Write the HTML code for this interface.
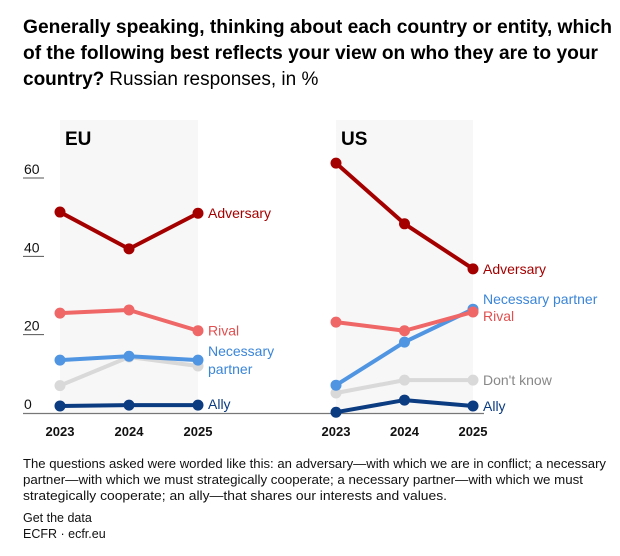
<!DOCTYPE html>
<html><head><meta charset="utf-8"><style>
html,body{margin:0;padding:0;background:#fff;}
svg{display:block;font-family:"Liberation Sans",sans-serif;}
</style></head><body>
<svg id="chart" width="620" height="556" viewBox="0 0 620 556" xmlns="http://www.w3.org/2000/svg">
<g font-weight="bold" font-size="19" fill="#000">
<text x="23" y="33" textLength="589" lengthAdjust="spacingAndGlyphs">Generally speaking, thinking about each country or entity, which</text>
<text x="23" y="59" textLength="575" lengthAdjust="spacingAndGlyphs">of the following best reflects your view on who they are to your</text>
<text x="23" y="85"><tspan>country?</tspan><tspan font-weight="normal" dx="5">Russian responses, in %</tspan></text>
</g>
<g id="plot"></g>
<g font-size="12.5" fill="#111">
<text x="23" y="468" textLength="583" lengthAdjust="spacingAndGlyphs">The questions asked were worded like this: an adversary—with which we are in conflict; a necessary</text>
<text x="23" y="484" textLength="560" lengthAdjust="spacingAndGlyphs">partner—with which we must strategically cooperate; a necessary partner—with which we must</text>
<text x="23" y="500" textLength="424" lengthAdjust="spacingAndGlyphs">strategically cooperate; an ally—that shares our interests and values.</text>
<text x="23" y="522">Get the data</text>
<text x="23" y="538">ECFR · ecfr.eu</text>
</g>
</svg>
<script>
const years = ["2023","2024","2025"];
const yTicks = [0,20,40,60];
const seriesNames = ["Don't know","Ally","Necessary partner","Rival","Adversary"];
const euDontKnow = [7,14.3,12];
const euAlly = [1.8,2,2];
const euPartner = [13.5,14.5,13.5];
const euRival = [25.5,26.3,21];
const euAdversary = [51.3,41.9,51];
const usDontKnow = [5.1,8.4,8.4];
const usAlly = [0.2,3.3,1.8];
const usPartner = [7.1,18.1,26.5];
const usRival = [23.2,21,25.8];
const usAdversary = [63.8,48.3,36.8];

const NS="http://www.w3.org/2000/svg";
const plot=document.getElementById('plot');
function mk(tag,attrs,parent){const e=document.createElementNS(NS,tag);for(const k in attrs)e.setAttribute(k,attrs[k]);(parent||plot).appendChild(e);return e;}
function y(v){return 413 - v*3.917;}
const panels=[
 {name:'EU',x0:60,dx:69,data:[euDontKnow,euAlly,euPartner,euRival,euAdversary],
  labels:[null,{t:['Ally'],dy:4},{t:['Necessary','partner'],dy:-4},{t:['Rival'],dy:5},{t:['Adversary'],dy:5}]},
 {name:'US',x0:336,dx:68.5,data:[usDontKnow,usAlly,usPartner,usRival,usAdversary],
  labels:[{t:["Don't know"],dy:5},{t:['Ally'],dy:5},{t:['Necessary partner'],dy:-5},{t:['Rival'],dy:9},{t:['Adversary'],dy:5}]}
];
const colors=['#d9d9d9','#0b3b80','#5095e2','#ef6767','#a50000'];
const labelColors=['#888','#0b3b80','#3a85d8','#e05050','#a50000'];
panels.forEach(p=>{
 const bg=mk('rect',{x:p.x0,y:120,width:p.dx*2,height:293,fill:'#f7f7f7'});
 
 
 const t=mk('text',{x:p.x0+5,y:145,'font-size':19,'font-weight':'bold',fill:'#000'});
 t.textContent=p.name;
 
 
});
yTicks.forEach(v=>{
 if(v>0){const l=mk('line',{x1:23,x2:44,y1:y(v),y2:y(v),stroke:'#555','stroke-width':1});
 
 }
 const t=mk('text',{x:24,y:y(v)-4,'font-size':14,fill:'#111'});
 t.textContent=v;
 
 
});
const ax=mk('line',{x1:23,x2:484,y1:413.5,y2:413.5,stroke:'#777','stroke-width':1.3});


panels.forEach(p=>{
 years.forEach((yr,i)=>{
  const t=mk('text',{x:p.x0+i*p.dx,y:436,'font-size':13,'font-weight':'bold','text-anchor':'middle',fill:'#111'});
  t.textContent=yr;
  
  
 });
 p.data.forEach((vals,si)=>{
  const g=mk('g',{});
  
  
  const pts=vals.map((v,i)=>(p.x0+i*p.dx)+','+y(v)).join(' ');
  const pl=mk('polyline',{points:pts,fill:'none',stroke:colors[si],'stroke-width':4,'stroke-linejoin':'round'},g);
  
  
  vals.forEach((v,i)=>{
   const c=mk('circle',{cx:p.x0+i*p.dx,cy:y(v),r:5.5,fill:colors[si]},g);
   
   
  });
  const lb=p.labels[si];
  if(lb){
   const t=mk('text',{x:p.x0+2*p.dx+10,y:y(vals[2])+lb.dy,'font-size':14,fill:labelColors[si]},g);
   lb.t.forEach((s,k)=>{const ts=mk('tspan',{x:p.x0+2*p.dx+10,dy:k?18:0},t);ts.textContent=s;});
   
   
  }
 });
});
</script>
</body></html>
